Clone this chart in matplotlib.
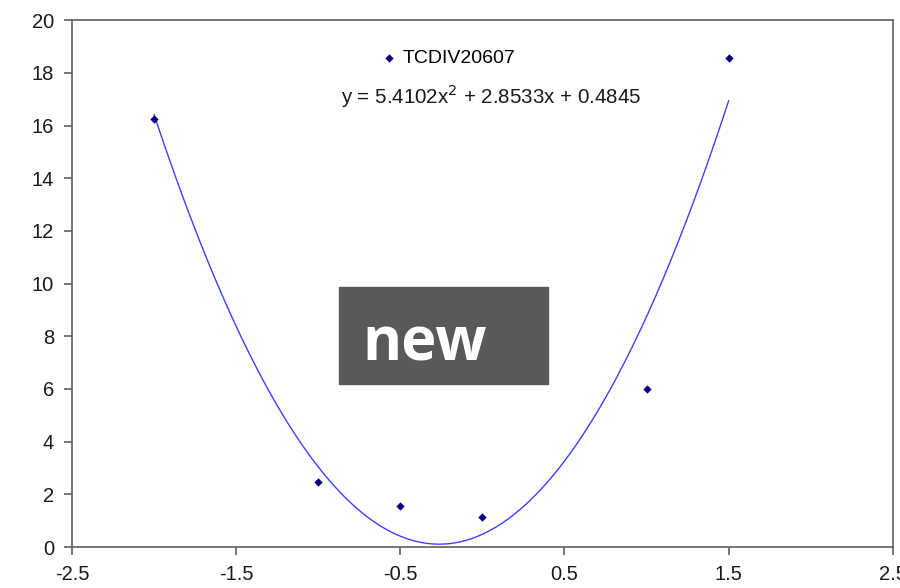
import matplotlib.pyplot as plt
import matplotlib.patches as mpatches
import numpy as np

plt.rcParams['font.family'] = ['Liberation Sans', 'DejaVu Sans']

# measured points
x_vals = [-2.0, -1.0, -0.5, 0.0, 1.0, 1.5]
y_vals = [16.25, 2.48, 1.55, 1.15, 5.98, 18.58]
series_name = "TCDIV20607"

# 2nd order polynomial trendline coefficients
coef_a, coef_b, coef_c = 5.4102, 2.8533, 0.4845

x_ticks = [-2.5, -1.5, -0.5, 0.5, 1.5, 2.5]
y_ticks = [0, 2, 4, 6, 8, 10, 12, 14, 16, 18, 20]

fig = plt.figure(figsize=(9, 5.88), dpi=100)
ax = fig.add_axes([0.08, 0.0697, 0.912, 0.896])

xs = np.linspace(min(x_vals), max(x_vals), 300)
ax.plot(xs, coef_a * xs**2 + coef_b * xs + coef_c, color='#3f3fff', lw=1.0, zorder=2)
pts = ax.scatter(x_vals, y_vals, marker='D', s=18, color='#000080', zorder=3,
                 label=series_name, linewidths=0)

ax.set_xlim(-2.5, 2.5)
ax.set_ylim(0, 20)
ax.set_xticks(x_ticks)
ax.set_xticklabels([f"{t:g}" for t in x_ticks])
ax.set_yticks(y_ticks)
for s in ax.spines.values():
    s.set_color('#606060')
    s.set_linewidth(1.2)
ax.tick_params(direction='out', length=6, width=1.2, color='#606060',
               labelsize=14.5, labelcolor='#1a1a1a')
ax.tick_params(axis='x', pad=7)
ax.tick_params(axis='y', pad=7)

leg = ax.legend(handles=[pts], loc='center left', bbox_to_anchor=(0.379, 0.928),
                frameon=False, fontsize=14, handlelength=0.6, handletextpad=0.4,
                borderaxespad=0, borderpad=0, scatterpoints=1)
ax.text(0.51, 0.855, r"y = 5.4102x$^2$ + 2.8533x + 0.4845", transform=ax.transAxes,
        ha='center', va='center', fontsize=14.8, color='#1a1a1a')

# "new" stamp
fig.add_artist(mpatches.Rectangle((0.3767, 0.347), 0.232, 0.165,
                                  transform=fig.transFigure, color='#595959', zorder=5))
fig.text(0.403, 0.413, "new", family=['Open Sans', 'DejaVu Sans'], fontweight='bold',
         fontsize=43, color='white', ha='left', va='center', zorder=6)

fig.savefig("out.png", dpi=100)
